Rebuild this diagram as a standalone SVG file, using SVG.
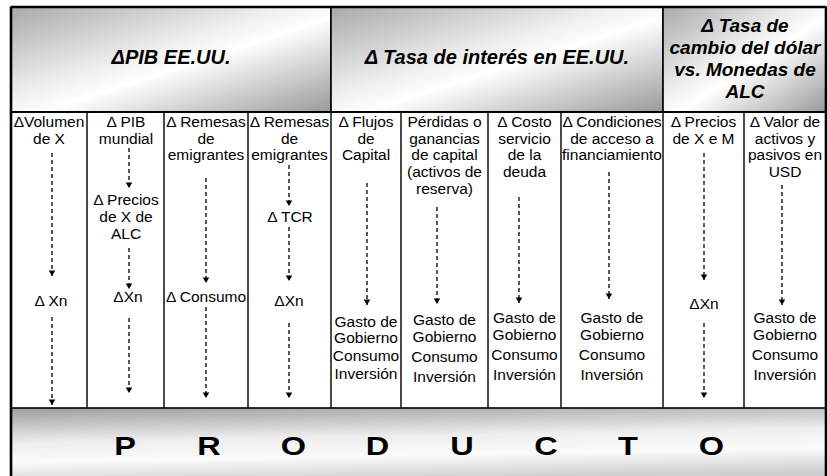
<svg xmlns="http://www.w3.org/2000/svg" width="827" height="476" viewBox="0 0 827 476">
<defs>
<linearGradient id="metal" x1="0" y1="0" x2="1" y2="1">
<stop offset="0" stop-color="#a9a9a9"/>
<stop offset="0.42" stop-color="#eeeeee"/>
<stop offset="0.55" stop-color="#ffffff"/>
<stop offset="0.68" stop-color="#e2e2e2"/>
<stop offset="1" stop-color="#9a9a9a"/>
</linearGradient>
<linearGradient id="metalB" x1="0" y1="0" x2="0.2" y2="1">
<stop offset="0" stop-color="#9e9e9e"/>
<stop offset="0.45" stop-color="#eeeeee"/>
<stop offset="0.7" stop-color="#fbfbfb"/>
<stop offset="1" stop-color="#cfcfcf"/>
</linearGradient>
<marker id="ah" markerUnits="userSpaceOnUse" markerWidth="7" markerHeight="7" viewBox="0 0 6 7" refX="5.6" refY="3.3" orient="auto">
<path d="M0,0 L5.6,3.3 L0,6.6 z" fill="#000"/>
</marker>
</defs>
<style>
.hd{font-family:"Liberation Sans",Arial,sans-serif;font-weight:bold;font-style:italic;font-size:20px;text-anchor:middle;fill:#000}
.t{font-family:"Liberation Sans",Arial,sans-serif;font-size:15.5px;text-anchor:middle;fill:#000}
.big{font-family:"Liberation Sans",Arial,sans-serif;font-weight:bold;font-size:25px;text-anchor:middle;fill:#000}
.box{stroke:#000;stroke-width:1.6}
.div{stroke:#111;stroke-width:1.5;fill:none}
.arr{stroke:#000;stroke-width:1.3;stroke-dasharray:4 3;fill:none;marker-end:url(#ah)}
</style>
<rect x="0" y="0" width="827" height="476" fill="#fff"/>

<g id="header-pib">
<rect x="11" y="7" width="320" height="105" fill="url(#metal)" class="box"/>
<text class="hd" x="171" y="64">ΔPIB EE.UU.</text>
</g>
<g id="header-tasa-interes">
<rect x="331" y="7" width="332" height="105" fill="url(#metal)" class="box"/>
<text class="hd" x="497" y="64">Δ Tasa de interés en EE.UU.</text>
</g>
<g id="header-tasa-cambio">
<rect x="663" y="7" width="163" height="105" fill="url(#metal)" class="box"/>
<text class="hd" style="font-size:19px" x="745" y="32">Δ Tasa de</text>
<text class="hd" style="font-size:19px" x="745" y="54">cambio del dólar</text>
<text class="hd" style="font-size:19px" x="745" y="76">vs. Monedas de</text>
<text class="hd" style="font-size:19px" x="745" y="98">ALC</text>
</g>

<g id="col-volumen">
<text class="t" x="49" y="127">ΔVolumen</text>
<text class="t" x="49" y="143.5">de X</text>
<text class="t" x="51" y="306">Δ Xn</text>
</g>
<g id="col-pib-mundial">
<text class="t" x="126" y="127">Δ PIB</text>
<text class="t" x="126" y="143.5">mundial</text>
<text class="t" x="126" y="205">Δ Precios</text>
<text class="t" x="126" y="222">de X de</text>
<text class="t" x="126" y="239">ALC</text>
<text class="t" x="128" y="302">ΔXn</text>
</g>
<g id="col-remesas-1">
<text class="t" x="206" y="127">Δ Remesas</text>
<text class="t" x="206" y="143.5">de</text>
<text class="t" x="206" y="160">emigrantes</text>
<text class="t" x="206" y="302">Δ Consumo</text>
</g>
<g id="col-remesas-2">
<text class="t" x="289.5" y="127">Δ Remesas</text>
<text class="t" x="289.5" y="143.5">de</text>
<text class="t" x="289.5" y="160">emigrantes</text>
<text class="t" x="290" y="222">Δ TCR</text>
<text class="t" x="289" y="306">ΔXn</text>
</g>
<g id="col-flujos">
<text class="t" x="366" y="127">Δ Flujos</text>
<text class="t" x="366" y="143.5">de</text>
<text class="t" x="366" y="160">Capital</text>
<text class="t" x="366" y="327">Gasto de</text>
<text class="t" x="366" y="343">Gobierno</text>
<text class="t" x="366" y="361">Consumo</text>
<text class="t" x="366" y="379">Inversión</text>
</g>
<g id="col-perdidas">
<text class="t" x="444.5" y="127">Pérdidas o</text>
<text class="t" x="444.5" y="143.5">ganancias</text>
<text class="t" x="444.5" y="160">de capital</text>
<text class="t" x="444.5" y="177">(activos de</text>
<text class="t" x="444.5" y="193.5">reserva)</text>
<text class="t" x="444.5" y="325">Gasto de</text>
<text class="t" x="444.5" y="342">Gobierno</text>
<text class="t" x="444.5" y="362">Consumo</text>
<text class="t" x="444.5" y="382">Inversión</text>
</g>
<g id="col-costo">
<text class="t" x="524.5" y="127">Δ Costo</text>
<text class="t" x="524.5" y="143.5">servicio</text>
<text class="t" x="524.5" y="160">de la</text>
<text class="t" x="524.5" y="177">deuda</text>
<text class="t" x="524.5" y="323">Gasto de</text>
<text class="t" x="524.5" y="340">Gobierno</text>
<text class="t" x="524.5" y="360">Consumo</text>
<text class="t" x="524.5" y="380">Inversión</text>
</g>
<g id="col-condiciones">
<text class="t" x="612" y="127">Δ Condiciones</text>
<text class="t" x="612" y="143.5">de acceso a</text>
<text class="t" x="612" y="160">financiamiento</text>
<text class="t" x="612" y="323">Gasto de</text>
<text class="t" x="612" y="340">Gobierno</text>
<text class="t" x="612" y="360">Consumo</text>
<text class="t" x="612" y="380">Inversión</text>
</g>
<g id="col-precios-xm">
<text class="t" x="703.5" y="127">Δ Precios</text>
<text class="t" x="703.5" y="143.5">de X e M</text>
<text class="t" x="704" y="309">ΔXn</text>
</g>
<g id="col-valor">
<text class="t" x="785" y="127">Δ Valor de</text>
<text class="t" x="785" y="143.5">activos y</text>
<text class="t" x="785" y="160">pasivos en</text>
<text class="t" x="785" y="177">USD</text>
<text class="t" x="785" y="323">Gasto de</text>
<text class="t" x="785" y="340">Gobierno</text>
<text class="t" x="785" y="360">Consumo</text>
<text class="t" x="785" y="380">Inversión</text>
</g>

<g id="producto">
<rect x="11" y="408" width="815" height="75" fill="url(#metalB)" class="box"/>
<text class="big" transform="translate(125,455) scale(1.3,1)">P</text>
<text class="big" transform="translate(209,455) scale(1.3,1)">R</text>
<text class="big" transform="translate(293.5,455) scale(1.3,1)">O</text>
<text class="big" transform="translate(377.5,455) scale(1.3,1)">D</text>
<text class="big" transform="translate(462,455) scale(1.3,1)">U</text>
<text class="big" transform="translate(546,455) scale(1.3,1)">C</text>
<text class="big" transform="translate(628,455) scale(1.3,1)">T</text>
<text class="big" transform="translate(711.5,455) scale(1.3,1)">O</text>
</g>

<g id="grid">
<path class="div" d="M87,112V408 M164,112V408 M248,112V408 M331,112V408 M401,112V408 M488,112V408 M561,112V408 M663,112V408 M744,112V408"/>
<path d="M11,112H826" stroke="#000" stroke-width="2"/>
<path d="M11,7V480 M826,7V480 M11,7H826" stroke="#000" stroke-width="2.6" fill="none"/>
</g>

<g id="connectors">
<path class="arr" d="M52,153V276"/>
<path class="arr" d="M52,317V405"/>
<path class="arr" d="M129,148V188"/>
<path class="arr" d="M129,248V289"/>
<path class="arr" d="M129,318V393"/>
<path class="arr" d="M206,178V283"/>
<path class="arr" d="M206,307V398"/>
<path class="arr" d="M289,165V206"/>
<path class="arr" d="M289,227V281"/>
<path class="arr" d="M289,323V398"/>
<path class="arr" d="M367,183V305"/>
<path class="arr" d="M437,207V304"/>
<path class="arr" d="M519,197V303"/>
<path class="arr" d="M609,172V299"/>
<path class="arr" d="M704,153V280"/>
<path class="arr" d="M704,323V398"/>
<path class="arr" d="M782,185V305"/>
</g>
</svg>
